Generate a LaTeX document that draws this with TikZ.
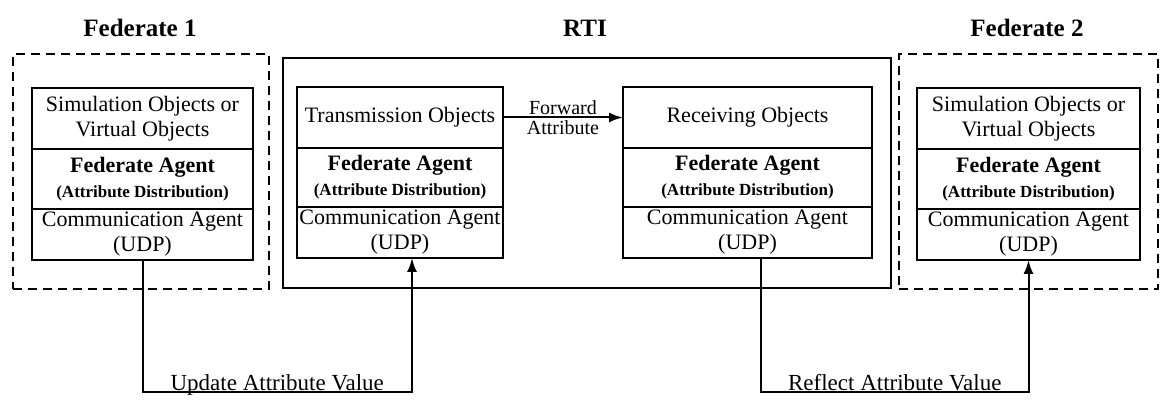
\documentclass[tikz,border=0pt]{standalone}
\usepackage{fontspec}
\setmainfont{Liberation Serif}
\usetikzlibrary{positioning,arrows.meta}

\tikzset{
  layer/.style={draw, line width=2.2pt, outer sep=0pt, inner sep=0pt, align=center,
    minimum width=#1, font=\fontsize{22}{25}\selectfont},
  toprow/.style={layer=#1, minimum height=61pt, anchor=north},
  midrow/.style={layer=#1, minimum height=60pt},
  botrow/.style={layer=#1, minimum height=51pt},
  group/.style={draw, line width=2.2pt, dash pattern=on 9pt off 6pt, anchor=north west},
  rtibox/.style={draw, line width=2.2pt, anchor=north west},
  title/.style={font=\fontsize{25}{28}\selectfont\bfseries},
  flow/.style={line width=2pt, -{Latex[length=14pt,width=10pt]}},
  flowlabel/.style={font=\fontsize{23}{26}\selectfont, inner sep=0pt}
}
\newcommand{\fedagent}{\textbf{Federate Agent}\\{\fontsize{17}{20}\selectfont\bfseries (Attribute Distribution)}}

\begin{document}
\begin{tikzpicture}[x=1pt, y=-1pt]
    \useasboundingbox (0,0) rectangle (1160,406);

    % titles
    \node[title] (t1) at (140,28) {Federate 1};
    \node[title] (trti) at (585,28) {RTI};
    \node[title] (t2) at (1027,28) {Federate 2};

    % outer frames
    \node[group, minimum width=256pt, minimum height=235pt] (fed1) at (12,53) {};
    \node[rtibox, minimum width=608pt, minimum height=230pt] (rti) at (282,57) {};
    \node[group, minimum width=259pt, minimum height=235pt] (fed2) at (898,53) {};

    % Federate 1 stack
    \node[toprow=221pt] (f1s) at (142.5,88) {Simulation Objects or\\Virtual Objects};
    \node[midrow=221pt, below=0pt of f1s] (f1f) {\fedagent};
    \node[botrow=221pt, below=0pt of f1f] (f1c) {Communication Agent\\(UDP)};

    % RTI stacks
    \node[toprow=206pt] (ts) at (400,87) {Transmission Objects};
    \node[midrow=206pt, minimum height=59pt, below=0pt of ts] (tf) {\fedagent};
    \node[botrow=206pt, below=0pt of tf] (tc) {Communication Agent\\(UDP)};

    \node[toprow=249pt] (rs) at (747.5,87) {Receiving Objects};
    \node[midrow=249pt, minimum height=59pt, below=0pt of rs] (rf) {\fedagent};
    \node[botrow=249pt, below=0pt of rf] (rc) {Communication Agent\\(UDP)};

    % Federate 2 stack
    \node[toprow=223pt] (f2s) at (1028.5,88) {Simulation Objects or\\Virtual Objects};
    \node[midrow=223pt, below=0pt of f2s] (f2f) {\fedagent};
    \node[botrow=223pt, below=0pt of f2f] (f2c) {Communication Agent\\(UDP)};

    % forward inside RTI
    \draw[flow] (ts.east) -- (rs.west)
        node[midway, align=center, inner sep=0pt, font=\fontsize{20}{20}\selectfont] (fwd) {Forward\\Attribute};

    % update / reflect
    \coordinate (uL) at (142.5,392);
    \coordinate (uR) at (412,392);
    \draw[flow] (f1c.south) -- (uL) -- (uR)
        node[midway, flowlabel, anchor=base, yshift=2pt] (ulab) {Update Attribute Value}
        -- (uR |- tc.south);

    \coordinate (rL) at (761,392);
    \coordinate (rR) at (1028.5,392);
    \draw[flow] (rL |- rc.south) -- (rL) -- (rR)
        node[midway, flowlabel, anchor=base, yshift=2pt] (rlab) {Reflect Attribute Value}
        -- (rR |- f2c.south);
\end{tikzpicture}
\end{document}
